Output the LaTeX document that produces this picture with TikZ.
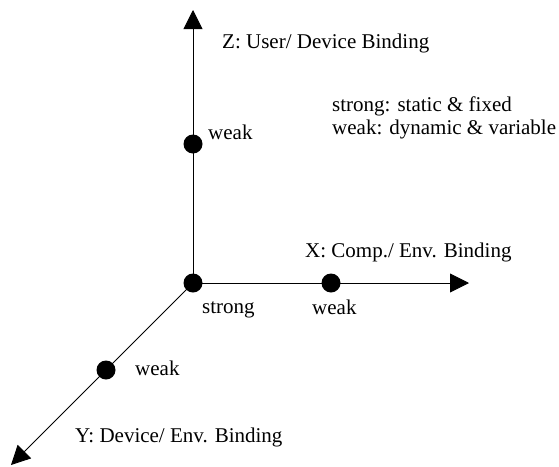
\documentclass[tikz,border=0pt]{standalone}
\usepackage{fontspec}
\setmainfont{Liberation Serif}
\usetikzlibrary{arrows.meta}
\begin{document}
\begin{tikzpicture}[x=1pt,y=-1pt,
  axis/.style={line width=0.9pt,-{Triangle[width=19pt,length=19pt]}},
  dot/.style={circle,fill=black,inner sep=0pt,minimum size=19pt},
  lbl/.style={anchor=west,inner sep=0pt,font=\fontsize{21}{25}\selectfont}]
\useasboundingbox (0,0) rectangle (559,466);
\coordinate (O) at (193,283);
\coordinate (Zt) at (193,10);
\coordinate (Xt) at (469,283);
\coordinate (Yt) at (11,465);
\draw[axis] (O) -- (Zt);
\draw[axis] (O) -- (Xt);
\draw[axis] (O) -- (Yt);
\node[dot] (o) at (O) {};
\node[dot] (zw) at (193,144) {};
\node[dot] (xw) at (331,283) {};
\node[dot] (yw) at (106,370) {};
\node[lbl] (zl) at (222,43) {Z: User/ Device Binding};
\node[lbl,align=left,font=\fontsize{21}{23}\selectfont] (leg) at (332,118) {strong: static \& fixed\\weak: dynamic \& variable};
\node[lbl] (zwl) at (208,132) {weak};
\node[lbl] (xl) at (305,252) {X: Comp./ Env. Binding};
\node[lbl] (ol) at (202,310) {strong};
\node[lbl] (xwl) at (312,307) {weak};
\node[lbl] (ywl) at (135,368) {weak};
\node[lbl] (yl) at (75,437) {Y: Device/ Env. Binding};
\end{tikzpicture}
\end{document}
